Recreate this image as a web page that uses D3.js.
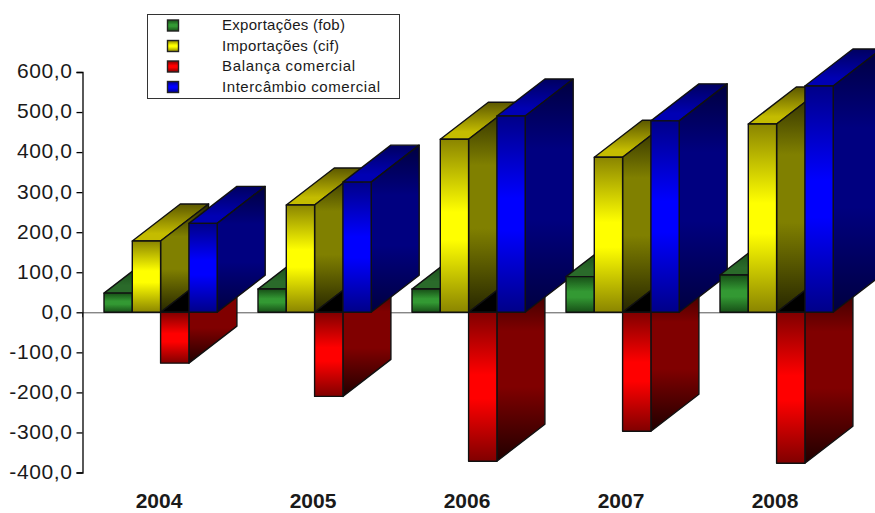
<!DOCTYPE html>
<html>
<head>
<meta charset="utf-8">
<script src="https://cdn.jsdelivr.net/npm/d3@7"></script>
<style>
  html, body { margin: 0; padding: 0; background: #fff; overflow: hidden; }
  text { font-family: "Liberation Sans", Arial, sans-serif; fill: #1a1a1a; }
</style>
</head>
<body>
<script>
var years = ["2004", "2005", "2006", "2007", "2008"];
var seriesNames = ["Exportações (fob)", "Importações (cif)", "Balança comercial", "Intercâmbio comercial"];
var exportacoes = [48, 58, 58, 89, 93];
var importacoes = [178, 268, 432, 387, 470];
var balanca = [-127, -210, -372, -297, -377];
var intercambio = [222, 325, 490, 478, 565];
var yTicks = [-400, -300, -200, -100, 0, 100, 200, 300, 400, 500, 600];

var allSeries = [exportacoes, importacoes, balanca, intercambio];

var w = 875, h = 513;
var depthX = 48, depthY = -37;

var svg = d3.select("body").append("svg").attr("width", w).attr("height", h);
var defs = svg.append("defs");

// bright, mid and dark colours of each series
var colors = [
  { light: "#339933", dark: "#174f17", side: "#1d5c1d", sideDark: "#0a2a0a", top: "#2a6a2a", topDark: "#0f3a0f" },
  { light: "#ffff00", dark: "#8a8500", side: "#808000", sideDark: "#262600", top: "#c4bc00", topDark: "#5c5800" },
  { light: "#ff0000", dark: "#800000", side: "#800000", sideDark: "#200000", top: "#000000", topDark: "#000000" },
  { light: "#0000ff", dark: "#000088", side: "#000080", sideDark: "#000040", top: "#0000b4", topDark: "#000060" }
];

function gradient(id, stops) {
  var g = defs.append("linearGradient").attr("id", id)
    .attr("x1", 0).attr("y1", 0).attr("x2", 0).attr("y2", 1);
  stops.forEach(function (s) {
    g.append("stop").attr("offset", s[0]).attr("stop-color", s[1]);
  });
}

colors.forEach(function (c, i) {
  gradient("front" + i, [[0, c.dark], [0.42, c.light], [0.58, c.light], [1, c.dark]]);
  gradient("side" + i, [[0, c.sideDark], [0.3, c.side], [0.6, c.side], [1, c.sideDark]]);
  gradient("top" + i, [[0, c.topDark], [0.8, c.top], [1, c.top]]);
});

var x0 = d3.scaleBand().domain(years).range([82.5, 852.5]);
var x1 = d3.scaleBand().domain(d3.range(4)).range([21.5, 134.7]);
var y = d3.scaleLinear().domain([-400, 600]).range([472.5, 72]);

// zero line with the category ticks
var xAxis = d3.axisBottom(x0).tickSize(0).tickFormat("");
svg.append("g").attr("transform", "translate(0," + y(0) + ")").call(xAxis)
  .select(".domain").attr("stroke", "#555").attr("stroke-width", 1);
svg.selectAll(".catTick").data(d3.range(0, 5))
  .enter().append("line")
  .attr("x1", function (d) { return x0(years[d]); })
  .attr("x2", function (d) { return x0(years[d]); })
  .attr("y1", y(0)).attr("y2", y(0) + 5)
  .attr("stroke", "#555");

// value axis
var yAxis = d3.axisLeft(y).tickValues(yTicks).tickSize(6).tickPadding(4)
  .tickFormat(function (d) { return d3.format(".1f")(d).replace(".", ",").replace("\u2212", "-"); });
var yg = svg.append("g").attr("transform", "translate(82.5,0)").call(yAxis);
yg.selectAll("text").attr("dy", "0.28em").style("font-size", "21px").style("letter-spacing", "0.6px")
  .style("font-family", '"Liberation Sans", Arial, sans-serif').attr("fill", "#222");
yg.selectAll("line, path").attr("stroke", "#000").attr("stroke-width", 1.3);

// the 3d bars, one box for every year and series
function poly(g, pts, fill) {
  g.append("polygon")
    .attr("points", pts.map(function (p) { return p.join(","); }).join(" "))
    .attr("fill", fill)
    .attr("stroke", "#111")
    .attr("stroke-width", 1.4)
    .attr("stroke-linejoin", "round");
}

years.forEach(function (yr, yi) {
  var gYear = svg.append("g").attr("class", "year");
  allSeries.forEach(function (vals, si) {
    var v = vals[yi];
    var xa = x0(yr) + x1(si), xb = xa + x1.bandwidth();
    var y0 = y(0), yv = y(v);
    var yTop = Math.min(y0, yv), yBot = Math.max(y0, yv);
    var g = gYear.append("g");
    poly(g, [[xa, yTop], [xb, yTop], [xb + depthX, yTop + depthY], [xa + depthX, yTop + depthY]], "url(#top" + si + ")");
    poly(g, [[xb, yTop], [xb + depthX, yTop + depthY], [xb + depthX, yBot + depthY], [xb, yBot]], "url(#side" + si + ")");
    poly(g, [[xa, yTop], [xb, yTop], [xb, yBot], [xa, yBot]], "url(#front" + si + ")");
  });
});

// category labels
svg.selectAll(".cat").data(years).enter().append("text")
  .attr("class", "cat")
  .attr("x", function (d) { return x0(d) + 76.5; })
  .attr("y", 507.5)
  .attr("text-anchor", "middle")
  .style("font-size", "21px")
  .style("font-weight", "bold")
  .text(function (d) { return d; });

// legend
var legend = svg.append("g");
legend.append("rect").attr("x", 147.5).attr("y", 14.5).attr("width", 252).attr("height", 84)
  .attr("fill", "#fff").attr("stroke", "#333").attr("stroke-width", 1);
var legendY = d3.scalePoint().domain(d3.range(4)).range([25.5, 87]);
seriesNames.forEach(function (name, i) {
  legend.append("rect")
    .attr("x", 167.5).attr("y", legendY(i) - 5.5).attr("width", 11).attr("height", 11)
    .attr("fill", "url(#front" + i + ")").attr("stroke", "#222").attr("stroke-width", 1.4);
  legend.append("text")
    .attr("x", 222).attr("y", legendY(i) + 4.5)
    .style("font-size", "15px")
    .attr("textLength", [123, 117, 133, 158][i])
    .text(name);
});
</script>
</body>
</html>
